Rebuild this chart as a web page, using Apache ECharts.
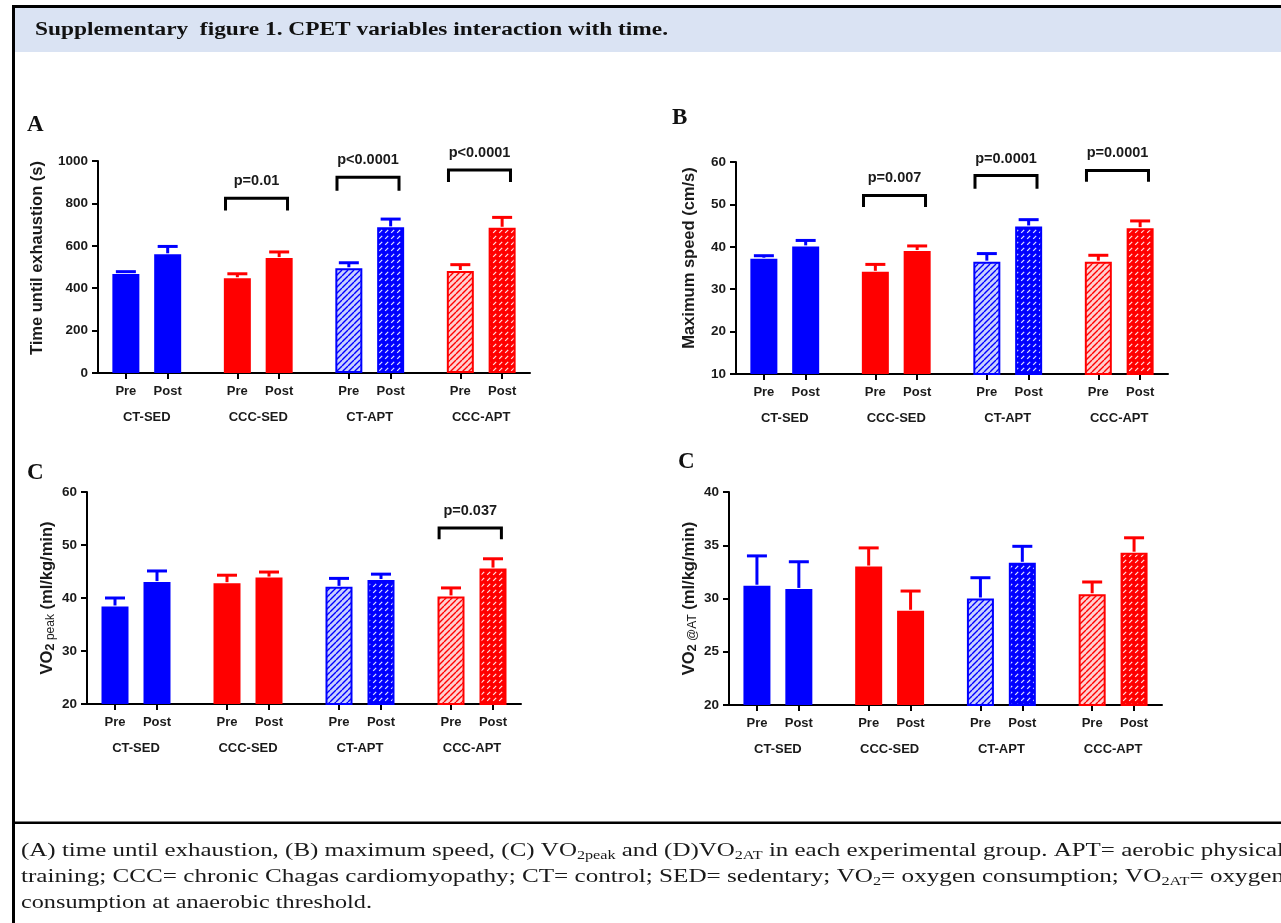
<!DOCTYPE html>
<html>
<head>
<meta charset="utf-8">
<script src="https://cdn.jsdelivr.net/npm/echarts@6/dist/echarts.min.js"></script>
<style>
  html, body { margin: 0; padding: 0; background: #fff; }
  #chart { width: 1281px; height: 923px; }
</style>
</head>
<body>
<div id="chart"></div>
<script>
// groups and time points
const groups = ['CT-SED', 'CCC-SED', 'CT-APT', 'CCC-APT']
const phases = ['Pre', 'Post']

// mean values, order: CT-SED Pre, CT-SED Post, CCC-SED Pre, ... CCC-APT Post
const timeMean = [467, 560, 447, 542, 494, 687, 481, 685]
const timeSem = [11, 37, 21, 29, 26, 39, 30, 49]
const speedMean = [37.2, 40.1, 34.1, 39.0, 36.5, 44.8, 36.5, 44.4]
const speedSem = [0.7, 1.4, 1.75, 1.2, 1.9, 1.6, 1.5, 1.7]
const vo2PeakMean = [38.4, 43.0, 42.8, 43.85, 42.1, 43.4, 40.3, 45.55]
const vo2PeakSem = [1.6, 2.1, 1.5, 1.05, 1.6, 1.1, 1.6, 1.85]
const vo2AtMean = [31.2, 30.9, 33.0, 28.85, 30.0, 33.35, 30.4, 34.3]
const vo2AtSem = [2.8, 2.55, 1.75, 1.85, 1.95, 1.55, 1.15, 1.4]

// significance brackets: [group index, label, bracket height, leg end]
const sigA = [[1, 'p=0.01', 824, 766], [2, 'p<0.0001', 923, 860], [3, 'p<0.0001', 958, 901]]
const sigB = [[1, 'p=0.007', 52.1, 49.4], [2, 'p=0.0001', 56.8, 53.7], [3, 'p=0.0001', 58.0, 55.35]]
const sigC = [[3, 'p=0.037', 53.2, 51.1]]
const sigD = []

// y axis ticks: min, max, interval
const yTicksA = [0, 1000, 200]
const yTicksB = [10, 60, 10]
const yTicksC = [20, 60, 10]
const yTicksD = [20, 40, 5]

const SANS = '"Liberation Sans", Arial, sans-serif'
const SERIF = '"Liberation Serif", "Times New Roman", serif'
const BLUE = '#0000ff'
const RED = '#ff0000'

// 斜线填充
const hatchLight = (color, bg) => {
  const c = document.createElement('canvas')
  c.width = c.height = 6
  const g = c.getContext('2d')
  g.fillStyle = bg
  g.fillRect(0, 0, 6, 6)
  g.strokeStyle = color
  g.lineWidth = 1.4
  g.beginPath()
  for (const o of [-6, 0, 6]) { g.moveTo(o, 6); g.lineTo(o + 6, 0) }
  g.stroke()
  return { image: c, repeat: 'repeat' }
}
const hatchDense = (color, dash) => {
  const c = document.createElement('canvas')
  c.width = c.height = 6
  const g = c.getContext('2d')
  g.fillStyle = color
  g.fillRect(0, 0, 6, 6)
  g.strokeStyle = dash
  g.lineWidth = 1.2
  g.lineCap = 'butt'
  g.beginPath()
  g.moveTo(1.2, 4.8); g.lineTo(4.2, 1.8)
  g.stroke()
  return { image: c, repeat: 'repeat' }
}

const groupColor = [BLUE, RED, BLUE, RED]
const barStyle = (i) => {
  const g = Math.floor(i / 2), t = i % 2
  const color = groupColor[g]
  if (g < 2) return { color }
  const fill = t === 0
    ? hatchLight(color, color === BLUE ? '#c9d0ff' : '#ffd0d0')
    : hatchDense(color, color === BLUE ? '#dfe3ff' : '#ffe0e0')
  return { color: fill, borderColor: color, borderWidth: 2 }
}
const pos = (g, t) => g * 8 + (t ? 5 : 2)
const barPos = [0, 1, 2, 3, 4, 5, 6, 7].map(i => pos(Math.floor(i / 2), i % 2))
const groupPos = groups.map((_, g) => g * 8 + 3.5)

const panels = [
  { mean: timeMean, sem: timeSem, sig: sigA, ticks: yTicksA,
    grid: { left: 98, top: 161, width: 432, height: 212 },
    name: 'Time until exhaustion (s)', nameGap: 52, namePad: [0, 0, 0, 18] },
  { mean: speedMean, sem: speedSem, sig: sigB, ticks: yTicksB,
    grid: { left: 736, top: 162, width: 432, height: 212 },
    name: 'Maximum speed (cm/s)', nameGap: 38, namePad: [0, 0, 0, 20] },
  { mean: vo2PeakMean, sem: vo2PeakSem, sig: sigC, ticks: yTicksC,
    grid: { left: 87, top: 492, width: 434, height: 212 },
    name: '{n|VO}{s|2}{t| peak}{n| (ml/kg/min)}', nameGap: 30, namePad: [0, 0, 0, 0] },
  { mean: vo2AtMean, sem: vo2AtSem, sig: sigD, ticks: yTicksD,
    grid: { left: 729, top: 492, width: 433, height: 213 },
    name: '{n|VO}{s|2}{t| @AT}{n| (ml/kg/min)}', nameGap: 30, namePad: [0, 0, 0, 0] }
]

const tickLabel = { fontFamily: SANS, fontWeight: 'bold', fontSize: 13, color: '#1a1a1a' }
const axisLineStyle = { color: '#000', width: 2 }

const grid = [], xAxis = [], yAxis = [], series = []
panels.forEach((p, k) => {
  grid.push(p.grid)
  xAxis.push({
    type: 'value', gridIndex: k, min: 0, max: 31,
    axisLine: { show: true, onZero: false, lineStyle: axisLineStyle },
    axisTick: { show: true, customValues: barPos, length: 6, lineStyle: axisLineStyle },
    axisLabel: { ...tickLabel, margin: 12, customValues: barPos,
      formatter: v => phases[barPos.indexOf(v) % 2] },
    splitLine: { show: false }
  })
  xAxis.push({
    type: 'value', gridIndex: k, min: 0, max: 31, position: 'bottom', offset: 30,
    axisLine: { show: false }, axisTick: { show: false }, splitLine: { show: false },
    axisLabel: { ...tickLabel, margin: 8, customValues: groupPos,
      formatter: v => groups[groupPos.indexOf(v)] }
  })
  yAxis.push({
    type: 'value', gridIndex: k, min: p.ticks[0], max: p.ticks[1], interval: p.ticks[2],
    name: p.name, nameLocation: 'middle', nameRotate: 90, nameGap: p.nameGap,
    nameTextStyle: {
      fontFamily: SANS, fontWeight: 'bold', fontSize: 16.5, color: '#1a1a1a', padding: p.namePad,
      rich: {
        n: { fontFamily: SANS, fontWeight: 'bold', fontSize: 16.5, color: '#1a1a1a', lineHeight: 20 },
        s: { fontFamily: SANS, fontWeight: 'bold', fontSize: 13, color: '#1a1a1a', lineHeight: 10, verticalAlign: 'bottom' },
        t: { fontFamily: SANS, fontWeight: 'normal', fontSize: 12, color: '#1a1a1a', lineHeight: 10, verticalAlign: 'bottom' }
      }
    },
    axisLine: { show: true, onZero: false, lineStyle: axisLineStyle },
    axisTick: { show: true, length: 6, lineStyle: axisLineStyle },
    axisLabel: { ...tickLabel, fontSize: 13.5, margin: 10, formatter: v => String(v) },
    splitLine: { show: false }
  })
  series.push({
    type: 'bar', xAxisIndex: k * 2, yAxisIndex: k, barWidth: 27, z: 2,
    data: p.mean.map((m, i) => ({ value: [barPos[i], m], itemStyle: barStyle(i) }))
  })
  // 误差线（仅上半部）
  series.push({
    type: 'custom', xAxisIndex: k * 2, yAxisIndex: k, z: 3,
    data: p.mean.map((m, i) => [barPos[i], m, m + p.sem[i]]),
    renderItem: (params, api) => {
      const a = api.coord([api.value(0), api.value(1)])
      const b = api.coord([api.value(0), api.value(2)])
      const c = groupColor[Math.floor(params.dataIndex / 2)]
      return {
        type: 'group',
        children: [
          { type: 'line', shape: { x1: a[0], y1: a[1] - 1, x2: b[0], y2: b[1] }, style: { stroke: c, lineWidth: 3 } },
          { type: 'line', shape: { x1: b[0] - 10, y1: b[1], x2: b[0] + 10, y2: b[1] }, style: { stroke: c, lineWidth: 3 } }
        ]
      }
    }
  })
  if (p.sig.length) {
    series.push({
      type: 'custom', xAxisIndex: k * 2, yAxisIndex: k, z: 4, clip: false,
      data: p.sig.map(s => [pos(s[0], 0), s[2]]),
      renderItem: (params, api) => {
        const s = p.sig[params.dataIndex]
        const xl = pos(s[0], 0) - 0.85, xr = pos(s[0], 1) + 0.6
        const p1 = api.coord([xl, s[3]]), p2 = api.coord([xl, s[2]])
        const p3 = api.coord([xr, s[2]]), p4 = api.coord([xr, s[3]])
        return {
          type: 'group',
          children: [
            { type: 'polyline', shape: { points: [p1, p2, p3, p4] },
              style: { stroke: '#000', lineWidth: 3, fill: null, lineJoin: 'miter' } },
            { type: 'text', x: (p2[0] + p3[0]) / 2, y: p2[1] - 17,
              style: { text: s[1], fill: '#1a1a1a', fontFamily: SANS, fontWeight: 'bold', fontSize: 14.5,
                align: 'center', verticalAlign: 'middle' } }
          ]
        }
      }
    })
  }
})

// 文字测量（题注横向拉伸）
const mctx = document.createElement('canvas').getContext('2d')
const measure = (str, font) => { mctx.font = font; return mctx.measureText(str).width }
const CAP_FONT = '18.5px "Liberation Serif"'
const SUB_FONT = '12px "Liberation Serif"'
const captionLines = [
  [['n', '(A) time until exhaustion, (B) maximum speed, (C) VO'], ['s', '2peak'], ['n', ' and (D)VO'], ['s', '2AT'],
    ['n', ' in each experimental group. APT= aerobic physical']],
  [['n', 'training; CCC= chronic Chagas cardiomyopathy; CT= control; SED= sedentary; VO'], ['s', '2'],
    ['n', '= oxygen consumption; VO'], ['s', '2AT'], ['n', '= oxygen']],
  [['n', 'consumption at anaerobic threshold.']]
]
const captionWidths = [1263, 1263, 351]
const captionRich = {
  n: { fontFamily: SERIF, fontSize: 18.5, lineHeight: 22, fill: '#1a1a1a' },
  s: { fontFamily: SERIF, fontSize: 12, lineHeight: 10, verticalAlign: 'bottom', fill: '#1a1a1a' }
}
const titleText = 'Supplementary  figure 1. CPET variables interaction with time.'
const TITLE_FONT = 'bold 18.5px "Liberation Serif"'
const titleScale = 633 / measure(titleText, TITLE_FONT)

const graphic = [
  { type: 'rect', shape: { x: 15, y: 8, width: 1270, height: 44 }, style: { fill: '#dae3f3' }, silent: true },
  { type: 'rect', shape: { x: 12, y: 5, width: 1275, height: 3 }, style: { fill: '#000' }, silent: true },
  { type: 'rect', shape: { x: 12, y: 5, width: 3, height: 930 }, style: { fill: '#000' }, silent: true },
  { type: 'rect', shape: { x: 12, y: 821.5, width: 1275, height: 2.5 }, style: { fill: '#000' }, silent: true },
  { type: 'text', x: 35, y: 30, scaleX: titleScale,
    style: { text: titleText, font: TITLE_FONT, fill: '#111', verticalAlign: 'middle' } }
]
const letters = [['A', 27, 125], ['B', 672, 118], ['C', 27, 473], ['C', 678, 462]]
letters.forEach(([t, x, y]) => graphic.push({
  type: 'text', x, y, style: { text: t, fontFamily: SERIF, fontWeight: 'bold', fontSize: 23, fill: '#111', verticalAlign: 'middle' }
}))
captionLines.forEach((line, i) => {
  const w = line.reduce((s, [k, str]) => s + measure(str, k === 'n' ? CAP_FONT : SUB_FONT), 0)
  graphic.push({
    type: 'text', x: 21, y: 851 + i * 26, scaleX: captionWidths[i] / w,
    style: { text: line.map(([k, str]) => `{${k}|${str}}`).join(''), rich: captionRich, verticalAlign: 'middle' }
  })
})

const chart = echarts.init(document.getElementById('chart'))
chart.setOption({
  animation: false,
  backgroundColor: '#fff',
  grid, xAxis, yAxis, series, graphic
})
</script>
</body>
</html>
